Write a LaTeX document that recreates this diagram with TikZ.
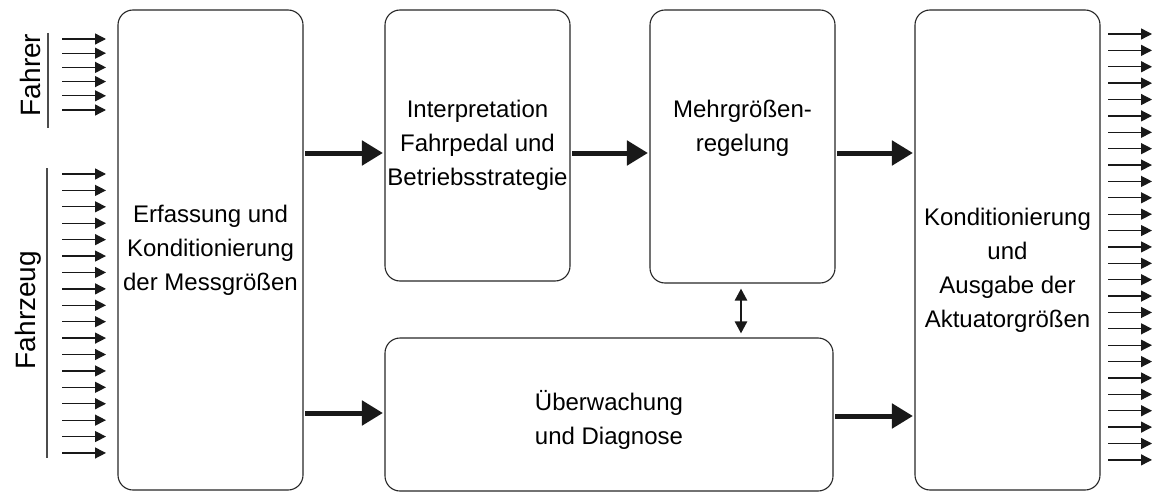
\documentclass[tikz,border=0pt]{standalone}
\usepackage{fontspec}
\setmainfont{Liberation Sans}
\usetikzlibrary{arrows.meta}
\begin{document}
\begin{tikzpicture}[x=1pt,y=-1pt,
  box/.style={draw=black!85, line width=1.1pt, rounded corners=15pt, inner sep=0pt},
  txt/.style={align=center, font=\fontsize{24}{34}\selectfont, inner sep=0pt},
  lbl/.style={font=\fontsize{28}{34}\selectfont, rotate=90, inner sep=0pt},
  smallarrow/.style={line width=1.3pt, draw=black!90, -{Triangle[length=11pt,width=11pt]}},
  bigarrow/.style={line width=5pt, draw=black!90, -{Triangle[length=21pt,width=24pt]}, shorten <=1.5pt, shorten >=1.5pt},
  dblarrow/.style={line width=2.5pt, draw=black!90, {Triangle[length=12pt,width=12pt]}-{Triangle[length=12pt,width=12pt]}},
  sideline/.style={line width=1.2pt, draw=black!70}
]
\useasboundingbox (0,0) rectangle (1153,492);

% boxes
\node[box, minimum width=185pt, minimum height=480pt] (b1) at (210.5,250) {};
\node[box, minimum width=185pt, minimum height=271pt] (b2) at (477.5,145.5) {};
\node[box, minimum width=185pt, minimum height=273pt] (b3) at (742.5,146.5) {};
\node[box, minimum width=448pt, minimum height=153pt] (b4) at (609,414.5) {};
\node[box, minimum width=185pt, minimum height=480pt] (b5) at (1007.5,250) {};

% texts
\node[txt] (t1) at (210.5,250) {Erfassung und\\Konditionierung\\der Messgrößen};
\node[txt] (t2) at (477.5,145) {Interpretation\\Fahrpedal und\\Betriebsstrategie};
\node[txt] (t3) at (742.5,128) {Mehrgrößen-\\regelung};
\node[txt] (t4) at (609,420) {Überwachung\\und Diagnose};
\node[txt] (t5) at (1007.5,270) {Konditionierung\\und\\Ausgabe der\\Aktuatorgrößen};

% side labels
\node[lbl] (fahrer) at (30,75) {Fahrer};
\node[lbl] (fahrzeug) at (28,310) {Fahrzeug};
\draw[sideline] (48,33) -- (48,128);
\draw[sideline] (47,168) -- (47,458);

% small input arrows
\foreach \i in {0,...,5} {
  \coordinate (fa\i) at (62,{39+14.2*\i});
  \coordinate (fb\i) at (106,{39+14.2*\i});
  \draw[smallarrow] (fa\i) -- (fb\i);
}
\foreach \i in {0,...,17} {
  \coordinate (za\i) at (62,{174+16.41*\i});
  \coordinate (zb\i) at (106,{174+16.41*\i});
  \draw[smallarrow] (za\i) -- (zb\i);
}
% small output arrows
\foreach \i in {0,...,26} {
  \coordinate (oa\i) at (1108,{34+16.38*\i});
  \coordinate (ob\i) at (1152,{34+16.38*\i});
  \draw[smallarrow] (oa\i) -- (ob\i);
}

% thick arrows
\coordinate (ya) at (0,153);
\coordinate (yb) at (0,413);
\coordinate (yc) at (0,416);
\draw[bigarrow] (b1.east |- ya) -- (b2.west |- ya);
\draw[bigarrow] (b2.east |- ya) -- (b3.west |- ya);
\draw[bigarrow] (b3.east |- ya) -- (b5.west |- ya);
\draw[bigarrow] (b1.east |- yb) -- (b4.west |- yb);
\draw[bigarrow] (b4.east |- yc) -- (b5.west |- yc);

% double arrow
\coordinate (dx) at (741,0);
\draw[dblarrow, shorten <=5pt, shorten >=4pt] (b3.south -| dx) -- (b4.north -| dx);
\end{tikzpicture}
\end{document}
